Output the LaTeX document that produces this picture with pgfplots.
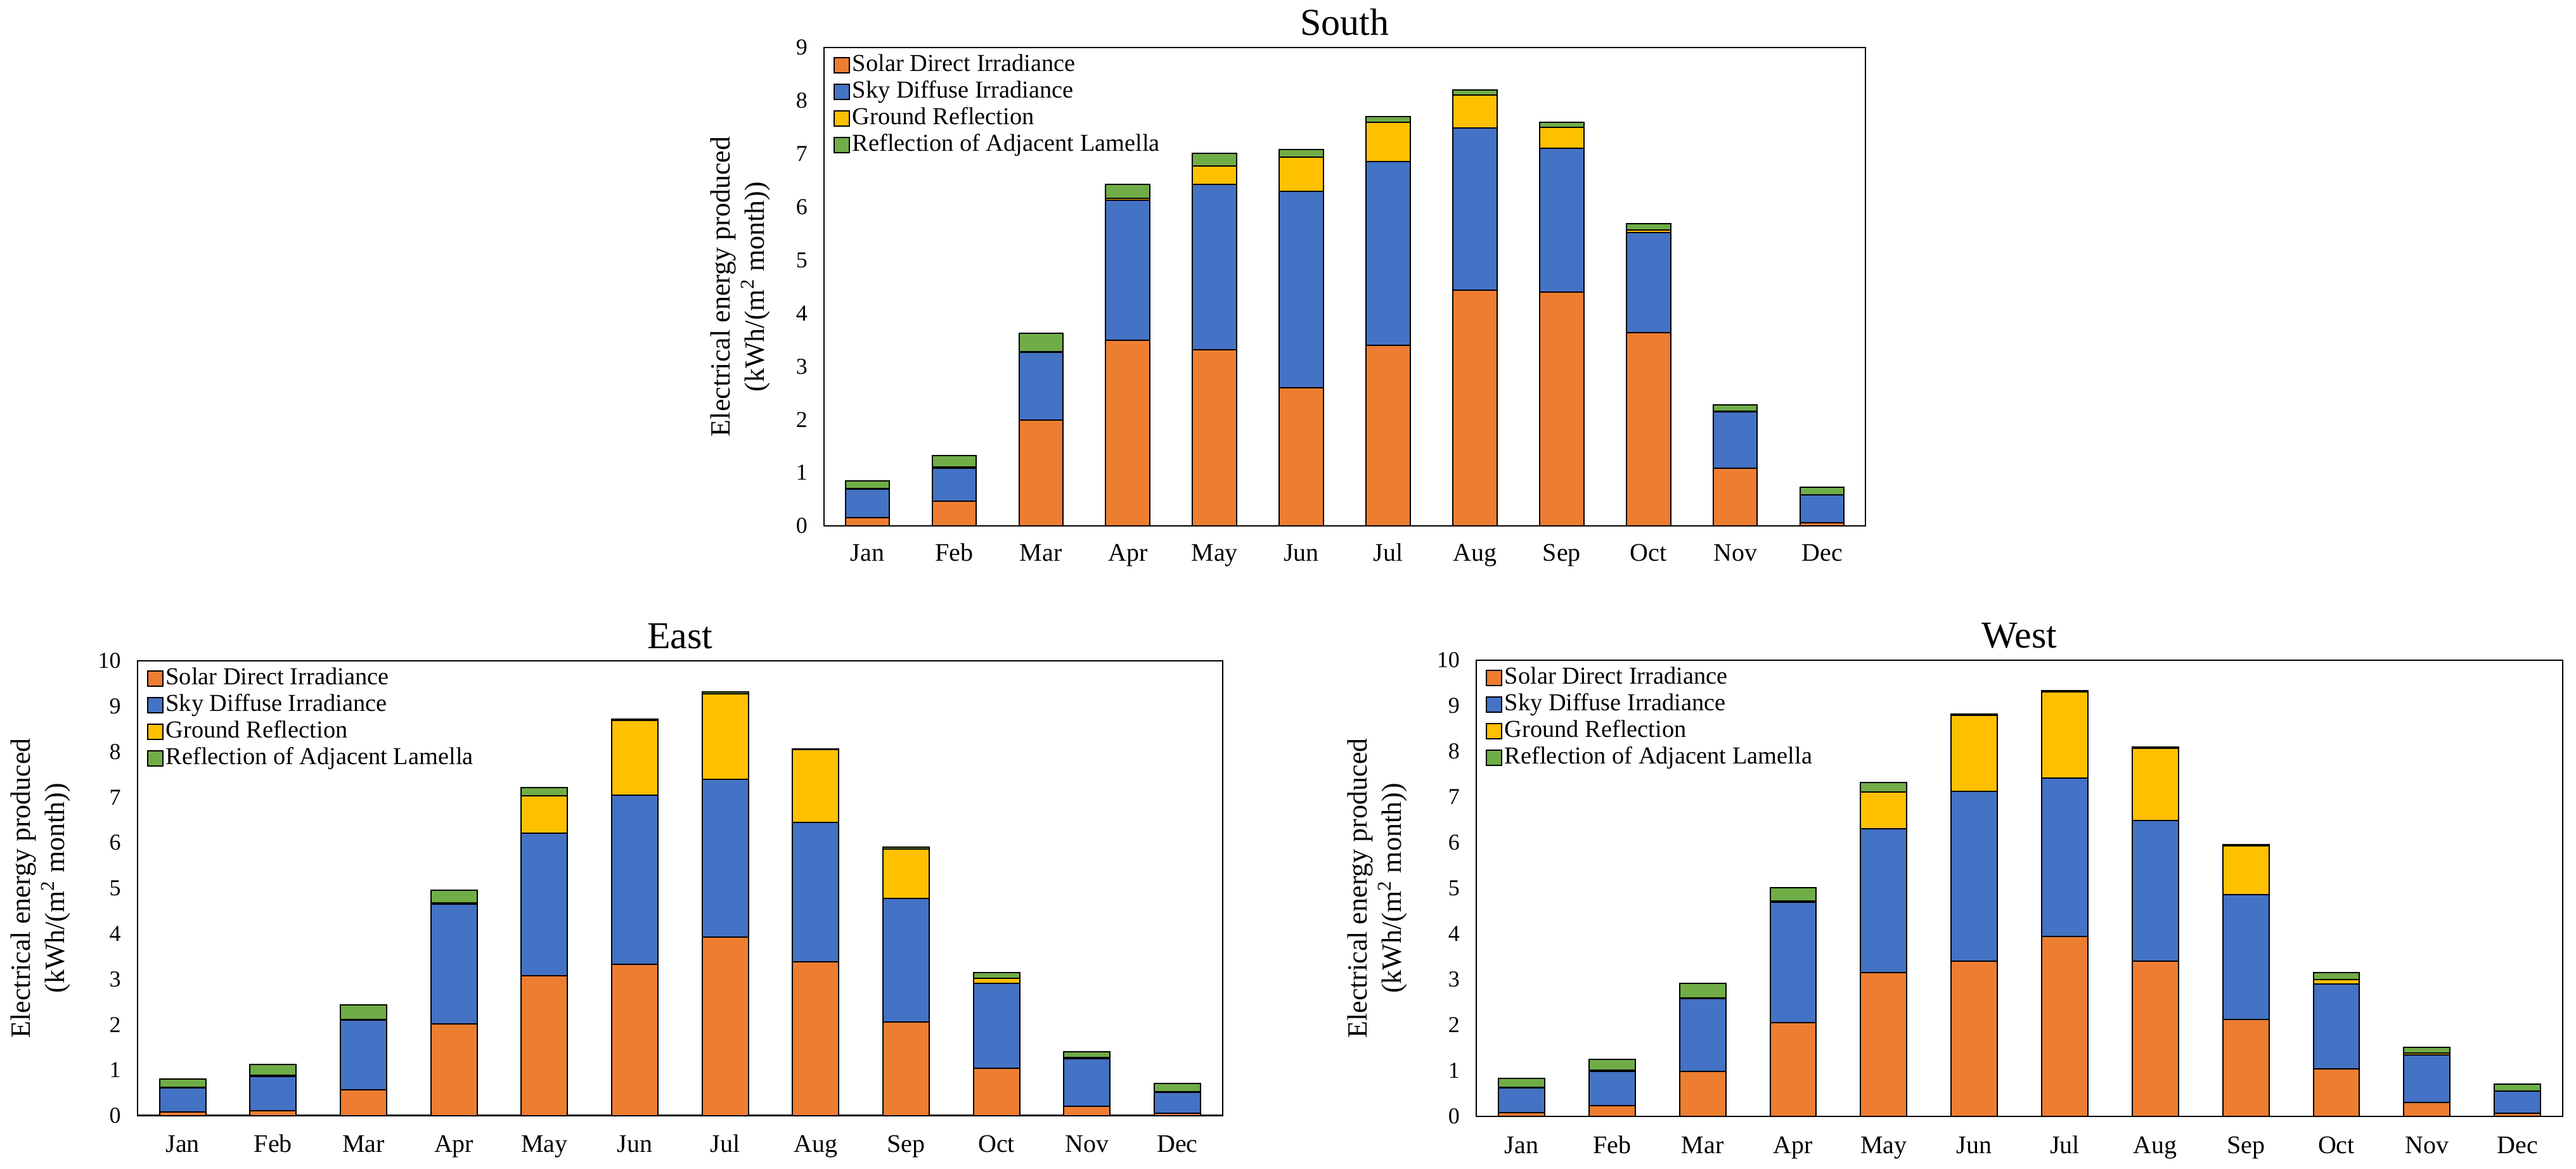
\documentclass[border=0pt]{standalone}
\usepackage{fontspec}
\setmainfont{Liberation Serif}
\usepackage{pgfplots}
\usepackage{pgfplotstable}
\pgfplotsset{compat=1.18}
\definecolor{cOr}{HTML}{ED7D31}
\definecolor{cBl}{HTML}{4472C4}
\definecolor{cYe}{HTML}{FFC000}
\definecolor{cGr}{HTML}{70AD47}

% segment values (not cumulative)
\pgfplotstableread{
x so sd gr rl
0 0.15 0.54 0.01 0.15
1 0.46 0.63 0.02 0.21
2 1.99 1.28 0.01 0.34
3 3.49 2.64 0.03 0.26
4 3.31 3.11 0.35 0.24
5 2.60 3.70 0.64 0.14
6 3.40 3.46 0.73 0.11
7 4.44 3.05 0.62 0.09
8 4.40 2.70 0.40 0.09
9 3.64 1.88 0.05 0.12
10 1.09 1.06 0.01 0.12
11 0.06 0.52 0.01 0.14
}\south
\pgfplotstableread{
x so sd gr rl
0 0.08 0.53 0.01 0.18
1 0.11 0.75 0.03 0.23
2 0.57 1.53 0.01 0.33
3 2.01 2.64 0.03 0.28
4 3.07 3.14 0.82 0.19
5 3.32 3.72 1.65 0.03
6 3.92 3.48 1.87 0.05
7 3.38 3.06 1.61 0.02
8 2.06 2.72 1.08 0.04
9 1.04 1.87 0.11 0.12
10 0.21 1.04 0.03 0.12
11 0.05 0.46 0.01 0.18
}\east
\pgfplotstableread{
x so sd gr rl
0 0.09 0.54 0.01 0.20
1 0.23 0.76 0.03 0.23
2 0.99 1.59 0.02 0.32
3 2.05 2.65 0.02 0.29
4 3.16 3.14 0.81 0.21
5 3.41 3.71 1.67 0.03
6 3.95 3.47 1.88 0.03
7 3.41 3.07 1.59 0.03
8 2.13 2.73 1.07 0.03
9 1.04 1.86 0.10 0.15
10 0.30 1.05 0.04 0.12
11 0.07 0.48 0.01 0.15
}\west

\pgfplotsset{
  every axis title/.style={at={(axis description cs:0.5,1)}, anchor=base, yshift=5pt,
    font=\fontsize{15}{18}\selectfont},
  segimg/.style={legend image code/.code={\draw[##1,line width=0.5pt] (0pt,-3pt) rectangle (6pt,3pt);}},
  solarax/.style={
    scale only axis,
    ybar stacked,
    xmin=-0.5, xmax=11.5, ymin=0,
    xtick={0,...,11},
    xticklabels={Jan,Feb,Mar,Apr,May,Jun,Jul,Aug,Sep,Oct,Nov,Dec},
    major tick length=0pt,
    tick pos=left,
    axis line style={line width=0.6pt},
    xticklabel style={font=\fontsize{10}{12}\selectfont, anchor=base},
    yticklabel style={font=\fontsize{9}{11}\selectfont, xshift=-3pt},
    /pgf/number format/assume math mode=true,
    ylabel={Electrical energy produced\\(kWh/(m\textsuperscript{2} month))},
    ylabel style={align=center, font=\fontsize{11}{13.5}\selectfont, anchor=center},
    legend style={at={(axis description cs:0,1)}, anchor=north west, xshift=3.5pt, yshift=-1.5pt,
      draw=none, fill=none, inner sep=0pt, font=\fontsize{9.6}{10}\selectfont, row sep=0pt,
      nodes={inner xsep=1pt, inner ysep=0.75pt, text height=6.8pt, text depth=2.2pt}},
    legend cell align=left,
  },
  seg/.style={draw=black, line width=0.5pt, segimg},
}

\begin{document}
\begin{tikzpicture}
\useasboundingbox (0,0) rectangle (1016pt,-461pt);

% South
\begin{axis}[solarax,
  at={(325pt,-18.75pt)}, anchor=north west,
  width=410.75pt, height=188.75pt,
  ymax=9, ytick={0,...,9},
  bar width=17.4pt,
  title={South},
  xticklabel style={yshift=-13.75pt},
  ylabel style={at={(axis description cs:-0.0803,0.5)}},
]
\addplot[seg, fill=cOr] table[x=x,y=so] {\south};
\addplot[seg, fill=cBl] table[x=x,y=sd] {\south};
\addplot[seg, fill=cYe] table[x=x,y=gr] {\south};
\addplot[seg, fill=cGr] table[x=x,y=rl] {\south};
\legend{Solar Direct Irradiance,Sky Diffuse Irradiance,Ground Reflection,Reflection of Adjacent Lamella}
\end{axis}

% East
\begin{axis}[solarax,
  at={(54.2pt,-260.75pt)}, anchor=north west,
  width=428pt, height=179.4pt,
  ymax=10, ytick={0,...,10},
  bar width=18.25pt,
  title={East},
  xticklabel style={yshift=-14.5pt},
  ylabel style={at={(axis description cs:-0.0892,0.5)}},
]
\addplot[seg, fill=cOr] table[x=x,y=so] {\east};
\addplot[seg, fill=cBl] table[x=x,y=sd] {\east};
\addplot[seg, fill=cYe] table[x=x,y=gr] {\east};
\addplot[seg, fill=cGr] table[x=x,y=rl] {\east};
\legend{Solar Direct Irradiance,Sky Diffuse Irradiance,Ground Reflection,Reflection of Adjacent Lamella}
\end{axis}

% West
\begin{axis}[solarax,
  at={(582.25pt,-260.5pt)}, anchor=north west,
  width=428.5pt, height=180pt,
  ymax=10, ytick={0,...,10},
  bar width=18.2pt,
  title={West},
  xticklabel style={yshift=-14.5pt},
  ylabel style={at={(axis description cs:-0.091,0.5)}},
]
\addplot[seg, fill=cOr] table[x=x,y=so] {\west};
\addplot[seg, fill=cBl] table[x=x,y=sd] {\west};
\addplot[seg, fill=cYe] table[x=x,y=gr] {\west};
\addplot[seg, fill=cGr] table[x=x,y=rl] {\west};
\legend{Solar Direct Irradiance,Sky Diffuse Irradiance,Ground Reflection,Reflection of Adjacent Lamella}
\end{axis}
\end{tikzpicture}
\end{document}
